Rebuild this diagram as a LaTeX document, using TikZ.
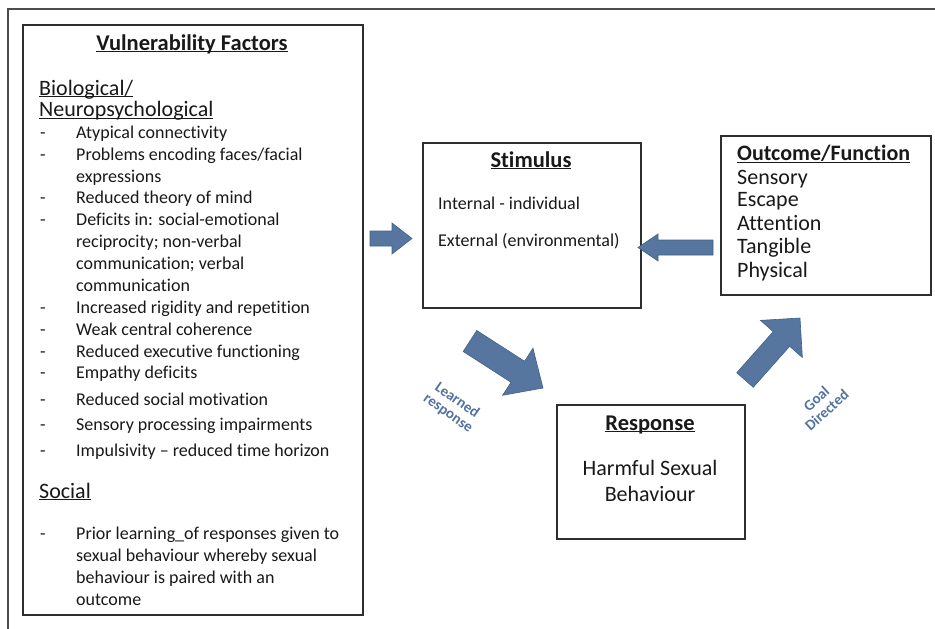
\documentclass[tikz,border=0pt]{standalone}
\usepackage{fontspec}
\setmainfont{Carlito}[Ligatures={TeX,NoCommon}]
\usetikzlibrary{calc,shadows}
\definecolor{arrowfill}{HTML}{5676A0}
\definecolor{arrowline}{HTML}{40608A}
\definecolor{labelcol}{HTML}{5273A0}
\definecolor{boxline}{HTML}{2E2E2E}
\newsavebox\ulbox
\newcommand{\myul}[1]{\sbox\ulbox{#1}\rlap{\rule[-2.4pt]{\wd\ulbox}{1.3pt}}\usebox\ulbox}
\newcommand{\blockarrow}[5]{%
  \coordinate (#1#2hb) at ($(#2)!#5!(#1)$);
  \filldraw[blockarr] ($(#1)!#3!90:(#2)$) -- ($(#1#2hb)!#3!90:(#2)$) -- ($(#1#2hb)!#4!90:(#2)$) -- (#2)
    -- ($(#1#2hb)!#4!-90:(#2)$) -- ($(#1#2hb)!#3!-90:(#2)$) -- ($(#1)!#3!-90:(#2)$) -- cycle;}
\tikzset{
  boxnode/.style={draw=boxline, line width=1.2pt, fill=white, inner sep=0pt,
    drop shadow={shadow xshift=0.8pt, shadow yshift=-0.8pt, fill=black!45, opacity=0.6}},
  frame/.style={draw=black!70, line width=1.6pt},
  blockarr/.style={fill=arrowfill, draw=arrowline, line width=0.6pt, line join=miter},
  itm/.style={anchor=base west, inner sep=0pt, font=\fontsize{18}{21.6}\selectfont, text=black!90},
  dsh/.style={itm},
  hd/.style={anchor=base west, inner sep=0pt, font=\fontsize{22}{26}\selectfont, text=black!90},
  hdc/.style={anchor=base, inner sep=0pt, font=\bfseries\fontsize{22.5}{26}\selectfont, text=black!90},
  big/.style={anchor=base west, inner sep=0pt, font=\fontsize{22}{26}\selectfont, text=black!90},
  bigc/.style={anchor=base, inner sep=0pt, font=\fontsize{22}{26}\selectfont, text=black!90},
  arrlabel/.style={inner sep=0pt, align=center, text=labelcol,
    font=\bfseries\fontsize{15}{15.5}\selectfont}
}
\begin{document}
\begin{tikzpicture}[x=1pt,y=-1pt]
\useasboundingbox (0,0) rectangle (935,629);
% outer frame (cropped)
\draw[frame] (8,629) -- (8,9) -- (935,9);

% boxes
\node[boxnode, minimum width=340pt, minimum height=590pt] (vuln) at (193,320) {};
\node[boxnode, minimum width=218pt, minimum height=165pt] (stim) at (532,225.5) {};
\node[boxnode, minimum width=210pt, minimum height=159pt] (outc) at (826,215.5) {};
\node[boxnode, minimum width=188pt, minimum height=134pt] (resp) at (651,472) {};

% Vulnerability factors
\node[hdc] (vtitle) at (192,50) {\myul{Vulnerability Factors}};
\node[hd] (bio) at (39,95) {\myul{Biological/}};
\node[hd] (neuro) at (39,116.5) {\myul{Neuropsychological}};
\node[dsh] (d1) at (40,138) {-};  \node[itm] (i1) at (76,138) {Atypical connectivity};
\node[dsh] (d2) at (40,160) {-};  \node[itm] (i2) at (76,160) {Problems encoding faces/facial};
                                  \node[itm] (i2b) at (76,182) {expressions};
\node[dsh] (d3) at (40,203) {-};  \node[itm] (i3) at (76,203) {Reduced theory of mind};
\node[dsh] (d4) at (40,225) {-};  \node[itm] (i4) at (76,225) {Deficits in: social-emotional};
                                  \node[itm] (i4b) at (76,247) {reciprocity; non-verbal};
                                  \node[itm] (i4c) at (76,269) {communication; verbal};
                                  \node[itm] (i4d) at (76,291) {communication};
\node[dsh] (d5) at (40,313) {-};  \node[itm] (i5) at (76,313) {Increased rigidity and repetition};
\node[dsh] (d6) at (40,335) {-};  \node[itm] (i6) at (76,335) {Weak central coherence};
\node[dsh] (d7) at (40,357) {-};  \node[itm] (i7) at (76,357) {Reduced executive functioning};
\node[dsh] (d8) at (40,378) {-};  \node[itm] (i8) at (76,378) {Empathy deficits};
\node[dsh] (d9) at (40,405) {-};  \node[itm] (i9) at (76,405) {Reduced social motivation};
\node[dsh] (d10) at (40,430) {-}; \node[itm] (i10) at (76,430) {Sensory processing impairments};
\node[dsh] (d11) at (40,456) {-}; \node[itm] (i11) at (76,456) {Impulsivity -- reduced time horizon};
\node[hd] (soc) at (39,498) {\myul{Social}};
\node[dsh] (d12) at (40,539) {-}; \node[itm] (i12) at (76,539) {Prior learning\_of responses given to};
                                  \node[itm] (i12b) at (76,561) {sexual behaviour whereby sexual};
                                  \node[itm] (i12c) at (76,583) {behaviour is paired with an};
                                  \node[itm] (i12d) at (76,605) {outcome};

% Stimulus
\node[hdc] (stitle) at (531,167) {\myul{Stimulus}};
\node[itm] (s1) at (438,209) {Internal - individual};
\node[itm] (s2) at (438,246) {External (environmental)};

% Outcome / Function
\node[hd, font=\bfseries\fontsize{22}{26}\selectfont] (otitle) at (737,160.5) {\myul{Outcome/Function}};
\node[big] (o1) at (737,184.5) {Sensory};
\node[big] (o2) at (737,206.5) {Escape};
\node[big] (o3) at (737,230) {Attention};
\node[big] (o4) at (737,253) {Tangible};
\node[big] (o5) at (737,277) {Physical};

% Response
\node[hdc] (rtitle) at (650,430) {\myul{Response}};
\node[bigc] (r1) at (650,475) {Harmful Sexual};
\node[bigc] (r2) at (650,501.5) {Behaviour};

% block arrows
\coordinate (a1s) at (370,238.5); \coordinate (a1e) at (412,238.5);
\coordinate (a2s) at (713,247.5); \coordinate (a2e) at (638,247.5);
\coordinate (a3s) at (470,341);   \coordinate (a3e) at (543,388);
\coordinate (a4s) at (745,380);   \coordinate (a4e) at (800,318);
\blockarrow{a1s}{a1e}{7.5pt}{15.5pt}{20pt}
\blockarrow{a2s}{a2e}{7.5pt}{13.5pt}{20pt}
\blockarrow{a3s}{a3e}{12.5pt}{28pt}{30pt}
\blockarrow{a4s}{a4e}{11pt}{28pt}{28pt}

% arrow labels
\node[arrlabel, rotate=-35] (lrn) at (452.5,407) {Learned\\response};
\node[arrlabel, rotate=42] (goal) at (821.5,404.5) {Goal\\Directed};
\end{tikzpicture}
\end{document}
